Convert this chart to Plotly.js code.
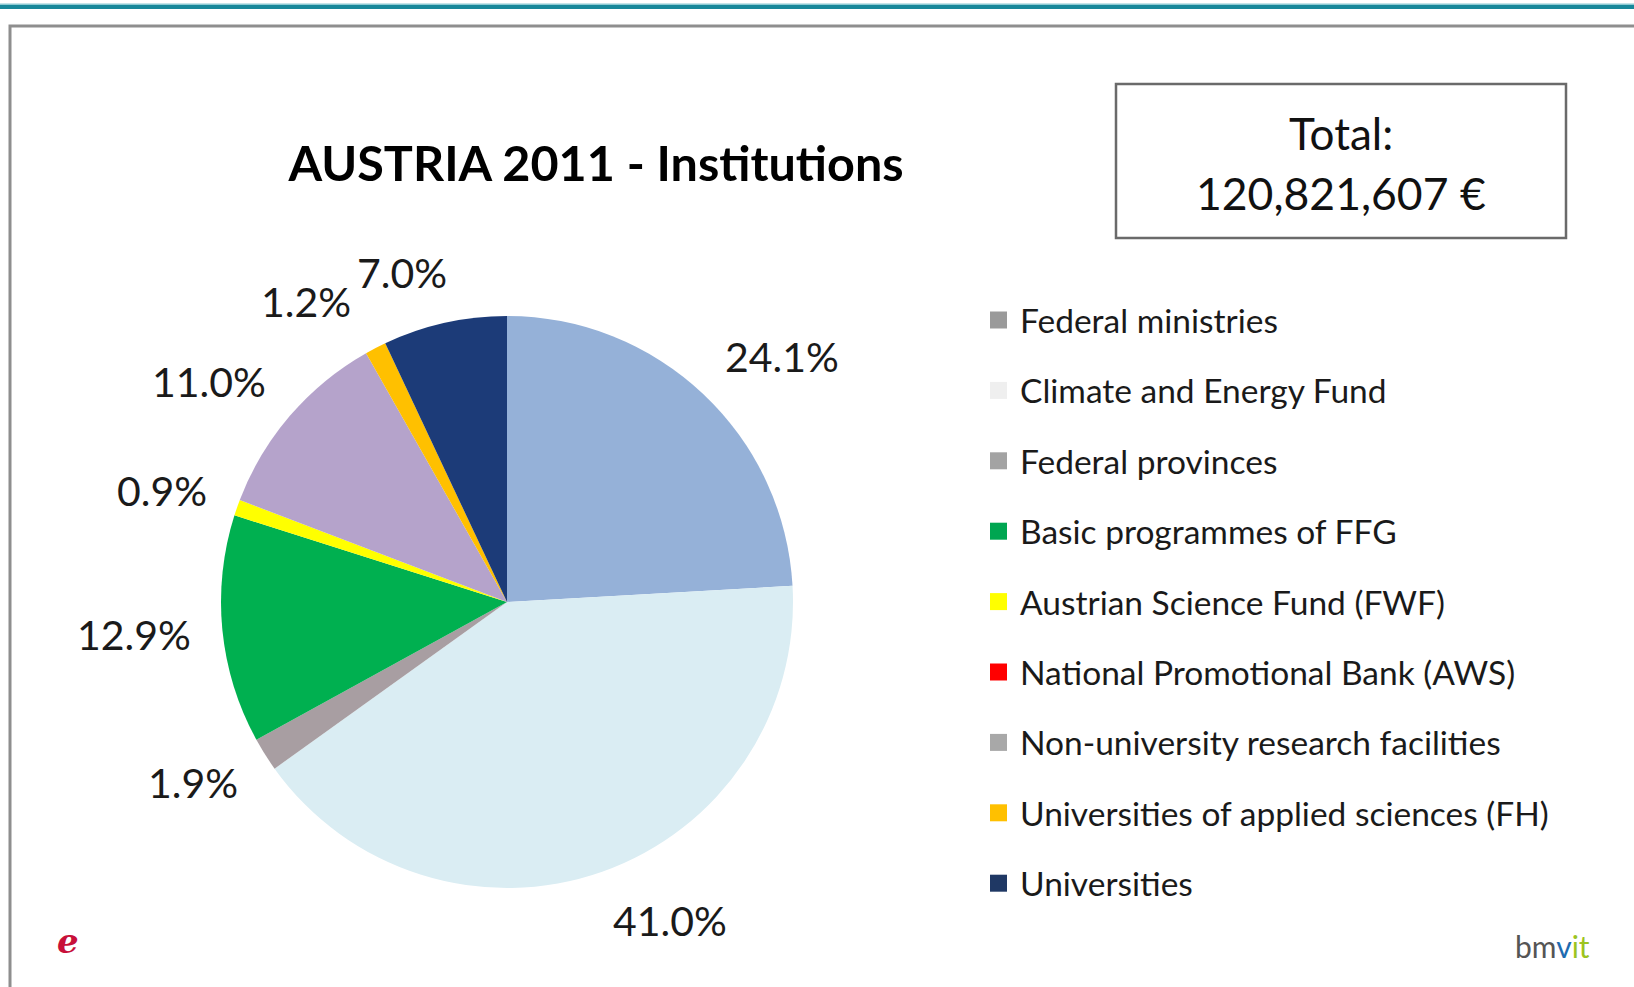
<!DOCTYPE html>
<html>
<head>
<meta charset="utf-8">
<script src="https://cdn.plot.ly/plotly-3.0.1.min.js"></script>
<style>
  html, body { margin: 0; padding: 0; background: #ffffff; }
  #chart { width: 1634px; height: 987px; }
</style>
</head>
<body>
<div id="chart"></div>
<script>
// ---------------- data ----------------
const chartTitle = 'AUSTRIA 2011 - Institutions';
const categories = [
  'Federal ministries',
  'Climate and Energy Fund',
  'Federal provinces',
  'Basic programmes of FFG',
  'Austrian Science Fund (FWF)',
  'National Promotional Bank (AWS)',
  'Non-university research facilities',
  'Universities of applied sciences (FH)',
  'Universities'
];
const shares = [24.1, 41.0, 1.9, 12.9, 0.9, 0.0, 11.0, 1.2, 7.0];
const sliceColors = ['#95B1D8', '#DAEDF3', '#A89EA2', '#00B050', '#FFFF00', '#FF0000', '#B5A3CB', '#FFC000', '#1C3B78'];
const legendColors = ['#9A9A9A', '#EFEFEF', '#A3A3A3', '#00A651', '#FFFF00', '#FF0000', '#A8A8A8', '#FFC000', '#1F3864'];
const totalLines = ['Total:', '120,821,607 €'];

// ---------------- layout helpers ----------------
const W = 1634, H = 987;
const px = x => x / W;
const py = y => 1 - y / H;
const FONT = 'Lato, "Open Sans", sans-serif';

// pie geometry (pixels)
const CX = 507, CY = 602, R = 286;
const pieDomain = { x: [px(CX - R), px(CX + R)], y: [py(CY + R), py(CY - R)] };

const traces = [{
  type: 'pie',
  values: shares,
  labels: categories,
  sort: false,
  direction: 'clockwise',
  rotation: 0,
  textinfo: 'none',
  hoverinfo: 'label+percent',
  showlegend: false,
  marker: { colors: sliceColors, line: { width: 0 } },
  domain: pieDomain
}];

const shapes = [];
const annotations = [];

// top teal band
shapes.push({ type: 'rect', xref: 'paper', yref: 'paper', x0: 0, x1: 1, y0: py(5), y1: py(3.5), fillcolor: '#8CCAD3', line: { width: 0 }, layer: 'below' });
shapes.push({ type: 'rect', xref: 'paper', yref: 'paper', x0: 0, x1: 1, y0: py(9), y1: py(5), fillcolor: '#17879A', line: { width: 0 }, layer: 'below' });
// outer frame
shapes.push({ type: 'rect', xref: 'paper', yref: 'paper', x0: px(10), x1: px(1660), y0: py(1010), y1: py(26), fillcolor: 'rgba(0,0,0,0)', line: { color: '#8E8E8E', width: 3 }, layer: 'below' });

// total box
shapes.push({ type: 'rect', xref: 'paper', yref: 'paper', x0: px(1116), x1: px(1566), y0: py(238), y1: py(84), fillcolor: '#ffffff', line: { color: '#6A6A6A', width: 2.5 }, layer: 'below' });
annotations.push({ xref: 'paper', yref: 'paper', x: px(1341), y: py(133), text: totalLines[0], showarrow: false, xanchor: 'center', yanchor: 'middle', font: { family: FONT, size: 44, color: '#111' } });
annotations.push({ xref: 'paper', yref: 'paper', x: px(1341), y: py(192), text: totalLines[1], showarrow: false, xanchor: 'center', yanchor: 'middle', font: { family: FONT, size: 44.5, color: '#111' } });

// percentage labels outside the pie, derived from the shares
const LABEL_SIZE = 41;
const totalShare = shares.reduce((a, b) => a + b, 0);
let cum = 0;
const LR = 318, LH = 20;
const labelBoxes = [];
shares.forEach((v, i) => {
  const mid = (cum + v / 2) / totalShare * 2 * Math.PI;
  cum += v;
  if (v <= 0) return;
  const s = Math.sin(mid), c = Math.cos(mid);
  const text = v.toFixed(1) + '%';
  const nDigits = text.replace(/[^0-9]/g, '').length;
  const w = LABEL_SIZE * (0.58 * nDigits + 0.23 + 0.80);
  const ax = CX + LR * s;
  const left = s >= 0 ? ax : ax - w;
  const yc = CY - (LR + LH) * c;
  labelBoxes.push({ text, left, w, yc, h: LABEL_SIZE });
});
// keep neighbouring labels from overlapping (push apart horizontally)
for (let k = 1; k < labelBoxes.length; k++) {
  const a = labelBoxes[k - 1], b = labelBoxes[k];
  const yOverlap = Math.abs(a.yc - b.yc) < (a.h + b.h) / 2;
  if (!yOverlap) continue;
  const [lo, hi] = a.left <= b.left ? [a, b] : [b, a];
  const overlap = lo.left + lo.w - hi.left;
  if (overlap > -6) {
    const d = (overlap + 6) / 2;
    lo.left -= d;
    hi.left += d;
  }
}
labelBoxes.forEach(b => {
  annotations.push({
    xref: 'paper', yref: 'paper', x: px(b.left + b.w / 2), y: py(b.yc),
    text: b.text, showarrow: false,
    xanchor: 'center', yanchor: 'middle',
    font: { family: FONT, size: LABEL_SIZE, color: '#1a1a1a' }
  });
});

// legend
const LEG_X = 990, LEG_Y0 = 320, LEG_STEP = 70.4, SQ = 17;
categories.forEach((name, i) => {
  const yc = LEG_Y0 + i * LEG_STEP;
  shapes.push({ type: 'rect', xref: 'paper', yref: 'paper', x0: px(LEG_X), x1: px(LEG_X + SQ), y0: py(yc + SQ / 2), y1: py(yc - SQ / 2), fillcolor: legendColors[i], line: { width: 0 } });
  annotations.push({ xref: 'paper', yref: 'paper', x: px(LEG_X + SQ + 11), y: py(yc), text: name, showarrow: false, xanchor: 'left', yanchor: 'middle', font: { family: FONT, size: 33.5, color: '#1a1a1a' } });
});

// logos
annotations.push({ xref: 'paper', yref: 'paper', x: px(68), y: py(941), text: '<b><i>e</i></b>', showarrow: false, xanchor: 'center', yanchor: 'middle', font: { family: '"DejaVu Serif", serif', size: 34, color: '#C8103A' } });
annotations.push({ xref: 'paper', yref: 'paper', x: px(1552), y: py(946), text: 'bm<span style="color:#1E6BB0">v</span><span style="color:#9CC420">it</span>', showarrow: false, xanchor: 'center', yanchor: 'middle', font: { family: FONT, size: 30, color: '#555' } });

const layout = {
  width: W, height: H,
  margin: { l: 0, r: 0, t: 0, b: 0 },
  paper_bgcolor: '#ffffff',
  plot_bgcolor: '#ffffff',
  showlegend: false,
  title: { text: '<b>' + chartTitle + '</b>', x: px(596), y: py(164), xref: 'paper', yref: 'paper', xanchor: 'center', yanchor: 'middle', font: { family: FONT, size: 48.5, color: '#000' } },
  shapes: shapes,
  annotations: annotations
};

Plotly.newPlot('chart', traces, layout, { displayModeBar: false, staticPlot: true });
</script>
</body>
</html>
